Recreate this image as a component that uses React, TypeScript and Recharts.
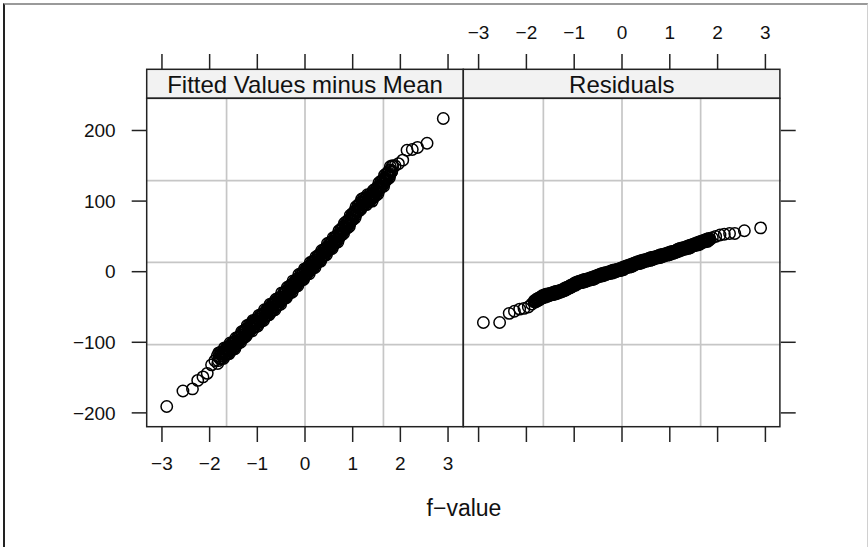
import { ReferenceLine, Scatter, ScatterChart, XAxis, YAxis } from 'recharts'

const W = 868
const H = 547
const FONT = '"Liberation Sans", Arimo, Arial, sans-serif'

const fValue = [
  -2.9, -2.56, -2.36, -2.25, -2.14, -2.05, -1.96, -1.89,
  -1.84, -1.82, -1.8, -1.78, -1.76, -1.74, -1.72, -1.7, -1.68, -1.66,
  -1.64, -1.62, -1.6, -1.58, -1.56, -1.54, -1.52, -1.5, -1.48, -1.46,
  -1.44, -1.42, -1.4, -1.38, -1.36, -1.34, -1.32, -1.3, -1.28, -1.26,
  -1.24, -1.22, -1.2, -1.18, -1.16, -1.14, -1.12, -1.1, -1.08, -1.06,
  -1.04, -1.02, -1.0, -0.98, -0.96, -0.94, -0.92, -0.9, -0.88, -0.86,
  -0.84, -0.82, -0.8, -0.78, -0.76, -0.74, -0.72, -0.7, -0.68, -0.66,
  -0.64, -0.62, -0.6, -0.58, -0.56, -0.54, -0.52, -0.5, -0.48, -0.46,
  -0.44, -0.42, -0.4, -0.38, -0.36, -0.34, -0.32, -0.3, -0.28, -0.26,
  -0.24, -0.22, -0.2, -0.18, -0.16, -0.14, -0.12, -0.1, -0.08, -0.06,
  -0.04, -0.02, 0.0, 0.02, 0.04, 0.06, 0.08, 0.1, 0.12, 0.14,
  0.16, 0.18, 0.2, 0.22, 0.24, 0.26, 0.28, 0.3, 0.32, 0.34,
  0.36, 0.38, 0.4, 0.42, 0.44, 0.46, 0.48, 0.5, 0.52, 0.54,
  0.56, 0.58, 0.6, 0.62, 0.64, 0.66, 0.68, 0.7, 0.72, 0.74,
  0.76, 0.78, 0.8, 0.82, 0.84, 0.86, 0.88, 0.9, 0.92, 0.94,
  0.96, 0.98, 1.0, 1.02, 1.04, 1.06, 1.08, 1.1, 1.12, 1.14,
  1.16, 1.18, 1.2, 1.22, 1.24, 1.26, 1.28, 1.3, 1.32, 1.34,
  1.36, 1.38, 1.4, 1.42, 1.44, 1.46, 1.48, 1.5, 1.52, 1.54,
  1.56, 1.58, 1.6, 1.62, 1.64, 1.66, 1.68, 1.7, 1.72, 1.74,
  1.76, 1.78, 1.8, 1.82, 1.84,
  1.89, 1.96, 2.05, 2.14, 2.25, 2.36, 2.56, 2.9,
]

const fittedMinusMean = [
  -191, -169, -166, -154, -149, -144, -132, -126,
  -119, -126, -120, -123, -116, -119, -113, -120, -114, -117,
  -109, -112, -106, -113, -107, -109, -102, -105, -99, -106,
  -99, -102, -94, -96, -90, -96, -90, -93, -85, -88,
  -81, -88, -81, -84, -77, -79, -73, -80, -74, -77,
  -70, -73, -67, -74, -68, -70, -63, -65, -59, -66,
  -59, -62, -55, -57, -51, -58, -52, -55, -47, -50,
  -43, -50, -44, -47, -40, -42, -36, -42, -36, -39,
  -31, -34, -27, -34, -28, -30, -23, -25, -18, -25,
  -18, -21, -14, -16, -10, -16, -10, -12, -5, -8,
  -1, -8, -1, -3, 4, 2, 8, 1, 8, 5,
  13, 10, 16, 10, 16, 14, 21, 19, 25, 18,
  25, 22, 30, 28, 34, 28, 34, 32, 39, 36,
  43, 36, 43, 41, 48, 46, 52, 46, 53, 51,
  59, 57, 64, 58, 64, 62, 69, 67, 74, 68,
  75, 73, 81, 79, 86, 80, 87, 85, 93, 91,
  98, 91, 98, 95, 102, 99, 105, 98, 104, 101,
  107, 104, 110, 104, 110, 108, 115, 113, 120, 114,
  121, 119, 127, 125, 131, 125, 132, 130, 138, 136,
  143, 137, 144, 142, 149,
  150, 153, 158, 172, 173, 176, 182, 217,
]

const residuals = [
  -72, -72, -59, -56, -53, -52, -50, -46,
  -42.5, -42, -41, -40, -39.5, -38.5, -38, -37, -36, -35.5,
  -35, -34.5, -34, -33.5, -33, -33, -32.5, -32, -31.5, -31,
  -31, -30.5, -30, -29.5, -29, -29, -28.5, -28, -27.5, -27,
  -26.5, -26, -25, -24.5, -24, -23, -22.5, -22, -21, -20.5,
  -19.5, -19, -18, -17.5, -17, -16, -15.5, -15, -14.5, -14,
  -14, -13.5, -13, -12.5, -12, -12, -11.5, -11, -10.5, -10,
  -10, -9.5, -9, -8.5, -8, -7, -6.5, -6, -5.5, -5,
  -5, -4.5, -4, -3.5, -3, -3, -2.5, -2, -1.5, -1,
  -1, -0.5, 0, 0.5, 1, 1, 1.5, 2, 2.5, 3,
  3, 3.5, 4, 4.5, 5, 6, 6.5, 7, 7.5, 8,
  8, 8.5, 9, 9.5, 10, 11, 11.5, 12, 12.5, 13,
  13, 13.5, 14, 14.5, 15, 15, 15.5, 16, 16.5, 17,
  17, 17.5, 18, 18.5, 19, 19, 19.5, 20, 20.5, 21,
  21, 21.5, 22, 22.5, 23, 23, 23.5, 24, 24.5, 25,
  25, 25.5, 26, 26.5, 27, 27, 27.5, 28, 28.5, 29,
  30, 30.5, 31, 31.5, 32, 32, 32.5, 33, 33.5, 34,
  34, 34.5, 35, 35.5, 36, 37, 37.5, 38, 38.5, 39,
  39, 39.5, 40, 40.5, 41, 42, 42.5, 43, 43.5, 44,
  44, 44.5, 45, 46, 46.5,
  48, 50, 52, 53, 54, 54, 58, 62,
]

// the in-between quantiles of the dense middle of the band
const fValueMid = [
  -1.83, -1.81, -1.79, -1.77, -1.75, -1.73, -1.71, -1.69, -1.67, -1.65,
  -1.63, -1.61, -1.59, -1.57, -1.55, -1.53, -1.51, -1.49, -1.47, -1.45,
  -1.43, -1.41, -1.39, -1.37, -1.35, -1.33, -1.31, -1.29, -1.27, -1.25,
  -1.23, -1.21, -1.19, -1.17, -1.15, -1.13, -1.11, -1.09, -1.07, -1.05,
  -1.03, -1.01, -0.99, -0.97, -0.95, -0.93, -0.91, -0.89, -0.87, -0.85,
  -0.83, -0.81, -0.79, -0.77, -0.75, -0.73, -0.71, -0.69, -0.67, -0.65,
  -0.63, -0.61, -0.59, -0.57, -0.55, -0.53, -0.51, -0.49, -0.47, -0.45,
  -0.43, -0.41, -0.39, -0.37, -0.35, -0.33, -0.31, -0.29, -0.27, -0.25,
  -0.23, -0.21, -0.19, -0.17, -0.15, -0.13, -0.11, -0.09, -0.07, -0.05,
  -0.03, -0.01, 0.01, 0.03, 0.05, 0.07, 0.09, 0.11, 0.13, 0.15,
  0.17, 0.19, 0.21, 0.23, 0.25, 0.27, 0.29, 0.31, 0.33, 0.35,
  0.37, 0.39, 0.41, 0.43, 0.45, 0.47, 0.49, 0.51, 0.53, 0.55,
  0.57, 0.59, 0.61, 0.63, 0.65, 0.67, 0.69, 0.71, 0.73, 0.75,
  0.77, 0.79, 0.81, 0.83, 0.85, 0.87, 0.89, 0.91, 0.93, 0.95,
  0.97, 0.99, 1.01, 1.03, 1.05, 1.07, 1.09, 1.11, 1.13, 1.15,
  1.17, 1.19, 1.21, 1.23, 1.25, 1.27, 1.29, 1.31, 1.33, 1.35,
  1.37, 1.39, 1.41, 1.43, 1.45, 1.47, 1.49, 1.51, 1.53, 1.55,
  1.57, 1.59, 1.61, 1.63, 1.65, 1.67, 1.69, 1.71, 1.73, 1.75,
  1.77, 1.79, 1.81, 1.83,
]

const fittedMinusMeanMid = [
  -130, -115, -123, -114, -123, -115, -123, -108, -117, -108,
  -117, -109, -116, -101, -110, -101, -110, -101, -109, -94,
  -102, -93, -101, -93, -100, -85, -94, -84, -93, -84,
  -91, -76, -84, -75, -84, -76, -84, -69, -78, -69,
  -78, -70, -77, -62, -71, -61, -70, -61, -69, -54,
  -63, -54, -62, -54, -61, -46, -55, -46, -55, -46,
  -54, -39, -47, -38, -47, -38, -46, -30, -39, -30,
  -38, -30, -37, -22, -31, -21, -30, -21, -29, -13,
  -22, -13, -21, -13, -20, -4, -13, -3, -12, -4,
  -11, 4, -4, 5, -3, 5, -3, 13, 4, 14,
  5, 13, 6, 21, 13, 23, 14, 23, 15, 30,
  22, 31, 23, 31, 24, 40, 31, 41, 32, 40,
  33, 48, 40, 49, 41, 50, 42, 58, 50, 60,
  52, 61, 54, 69, 61, 71, 62, 71, 64, 80,
  72, 82, 74, 83, 76, 92, 84, 94, 86, 95,
  88, 103, 95, 104, 95, 103, 95, 109, 100, 109,
  100, 108, 100, 115, 107, 117, 108, 117, 110, 126,
  118, 128, 120, 128, 121, 137, 129, 139, 131, 140,
  133, 149, 141, 150,
]

const residualsMid = [
  -41, -43, -39, -41.5, -37.5, -40, -36, -38, -34, -37,
  -33, -36, -32, -35, -31.5, -34, -31, -33, -30, -32.5,
  -29, -32, -28, -31, -27.5, -30, -27, -29, -26, -28,
  -25, -27, -23, -26, -22, -24, -21, -23, -19, -21.5,
  -18, -20, -16, -19, -15, -17, -14, -16, -13, -15.5,
  -12, -15, -11, -14, -10.5, -13, -10, -12, -9, -11.5,
  -8, -11, -7, -10, -6, -8, -5, -7, -4, -6.5,
  -3, -6, -2, -5, -1.5, -4, -1, -3, 0, -2.5,
  1, -2, 2, -1, 2.5, 0, 3, 1, 4, 1.5,
  5, 2, 6, 3, 7, 5, 8, 6, 9, 6.5,
  10, 7, 11, 8, 12, 10, 13, 11, 14, 11.5,
  15, 12, 16, 13, 16.5, 14, 17, 15, 18, 15.5,
  19, 16, 20, 17, 20.5, 18, 21, 19, 22, 19.5,
  23, 20, 24, 21, 24.5, 22, 25, 23, 26, 23.5,
  27, 24, 28, 25, 28.5, 26, 29, 27, 30, 28,
  32, 29, 33, 30, 33.5, 31, 34, 32, 35, 32.5,
  36, 33, 37, 34, 38, 36, 39, 37, 40, 37.5,
  41, 38, 42, 39, 43, 41, 44, 42, 45, 42.5,
  46, 43, 47, 45,
]

const xTicks = [-3, -2, -1, 0, 1, 2, 3]
const yTicks = [-200, -100, 0, 100, 200]
const vGrid = [-1.645, 0, 1.645]
const hGrid = [-103.4, 13.3, 128.9]
const panelTitles = ['Fitted Values minus Mean', 'Residuals']

const X_DOMAIN: [number, number] = [-3.32, 3.32]
const Y_BOTTOM = -220
const Y_PANEL_TOP = 244.6
const Y_DOMAIN: [number, number] = [Y_BOTTOM, 287.1] // includes strip band

const fittedData = [
  ...fValue.map((x, i) => ({ x, y: fittedMinusMean[i] })),
  ...fValueMid.map((x, i) => ({ x, y: fittedMinusMeanMid[i] })),
]
const residualData = [
  ...fValue.map((x, i) => ({ x, y: residuals[i] })),
  ...fValueMid.map((x, i) => ({ x, y: residualsMid[i] })),
]

const ink = '#222'
const gridColor = '#c6c6c6'
const tickStyle = { fontSize: 19, fill: '#111', fontFamily: FONT }
const blank = () => ''
const minus = (v: number) => String(v).replace('-', '\u2212')

const Ring = (props: any) => {
  const { cx, cy } = props
  if (cx == null || cy == null) return null
  return <circle cx={cx} cy={cy} r={5.7} fill="none" stroke="#000" strokeWidth={1.5} />
}

const gridLines = () => [
  ...hGrid.map((v) => (
    <ReferenceLine
      key={`h${v}`}
      xAxisId="bottom"
      y={v}
      stroke={gridColor}
      strokeWidth={1.7}
      ifOverflow="visible"
    />
  )),
  ...vGrid.map((q) => (
    <ReferenceLine
      key={`v${q}`}
      xAxisId="bottom"
      segment={[
        { x: q, y: Y_BOTTOM },
        { x: q, y: Y_PANEL_TOP },
      ]}
      stroke={gridColor}
      strokeWidth={1.7}
      ifOverflow="visible"
    />
  )),
]

interface PanelProps {
  data: { x: number; y: number }[]
  side: 'left' | 'right'
}

const Panel = ({ data, side }: PanelProps) => {
  const isLeft = side === 'left'
  const margin = isLeft
    ? { top: 24, right: 404.7, bottom: 60, left: 86.7 }
    : { top: 24, right: 27.3, bottom: 60, left: 463.3 }

  return (
    <div style={{ position: 'absolute', left: 0, top: 0 }}>
      <ScatterChart width={W} height={H} margin={margin} style={{ fontFamily: FONT }}>
        <XAxis
          xAxisId="bottom"
          type="number"
          dataKey="x"
          orientation="bottom"
          domain={X_DOMAIN}
          ticks={xTicks}
          interval={0}
          allowDataOverflow
          height={60}
          axisLine={false}
          tickSize={15}
          tickMargin={15}
          tickLine={{ stroke: ink, strokeWidth: 1.5 }}
          tick={tickStyle}
          tickFormatter={isLeft ? minus : blank}
        />
        <XAxis
          xAxisId="top"
          type="number"
          dataKey="x"
          orientation="top"
          domain={X_DOMAIN}
          ticks={xTicks}
          interval={0}
          allowDataOverflow
          height={45}
          axisLine={false}
          tickSize={15}
          tickMargin={15}
          tickLine={{ stroke: ink, strokeWidth: 1.5 }}
          tick={tickStyle}
          tickFormatter={isLeft ? blank : minus}
        />
        <YAxis
          type="number"
          dataKey="y"
          orientation={isLeft ? 'left' : 'right'}
          domain={Y_DOMAIN}
          ticks={yTicks}
          interval={0}
          allowDataOverflow
          width={60}
          axisLine={false}
          tickSize={15}
          tickMargin={16}
          tickLine={{ stroke: ink, strokeWidth: 1.5 }}
          tick={tickStyle}
          tickFormatter={isLeft ? minus : blank}
        />
        {gridLines()}
        <Scatter xAxisId="bottom" data={data} shape={Ring} isAnimationActive={false} />
      </ScatterChart>
    </div>
  )
}

export default function App() {
  const panels = [
    { left: 146.7, title: panelTitles[0], cx: 305 },
    { left: 463.3, title: panelTitles[1], cx: 621.8 },
  ]
  return (
    <div
      style={{
        position: 'absolute',
        left: 0,
        top: 0,
        width: W,
        height: H,
        background: '#fff',
        fontFamily: FONT,
        overflow: 'hidden',
      }}
    >
      <div
        style={{
          position: 'absolute',
          left: 3,
          top: 3,
          width: W - 3,
          height: H - 2,
          boxSizing: 'border-box',
          borderLeft: '2px solid #222',
          borderTop: '2px solid #9a9a9a',
          borderRight: '1px solid #d0d0d0',
        }}
      />
      <Panel data={fittedData} side="left" />
      <Panel data={residualData} side="right" />
      <svg
        width={W}
        height={H}
        style={{ position: 'absolute', left: 0, top: 0, pointerEvents: 'none' }}
      >
        {panels.map((p) => (
          <g key={p.title}>
            <rect
              x={p.left}
              y={69.3}
              width={316.6}
              height={29}
              fill="#f2f2f2"
              stroke={ink}
              strokeWidth={1.5}
            />
            <text
              x={p.cx}
              y={92.5}
              textAnchor="middle"
              fontSize={24}
              fontFamily={FONT}
              fill="#111"
            >
              {p.title}
            </text>
            <rect
              x={p.left}
              y={98.3}
              width={316.6}
              height={328.4}
              fill="none"
              stroke={ink}
              strokeWidth={1.5}
            />
          </g>
        ))}
        <text x={464} y={515.5} textAnchor="middle" fontSize={23} fontFamily={FONT} fill="#111">
          f{'\u2212'}value
        </text>
      </svg>
    </div>
  )
}
